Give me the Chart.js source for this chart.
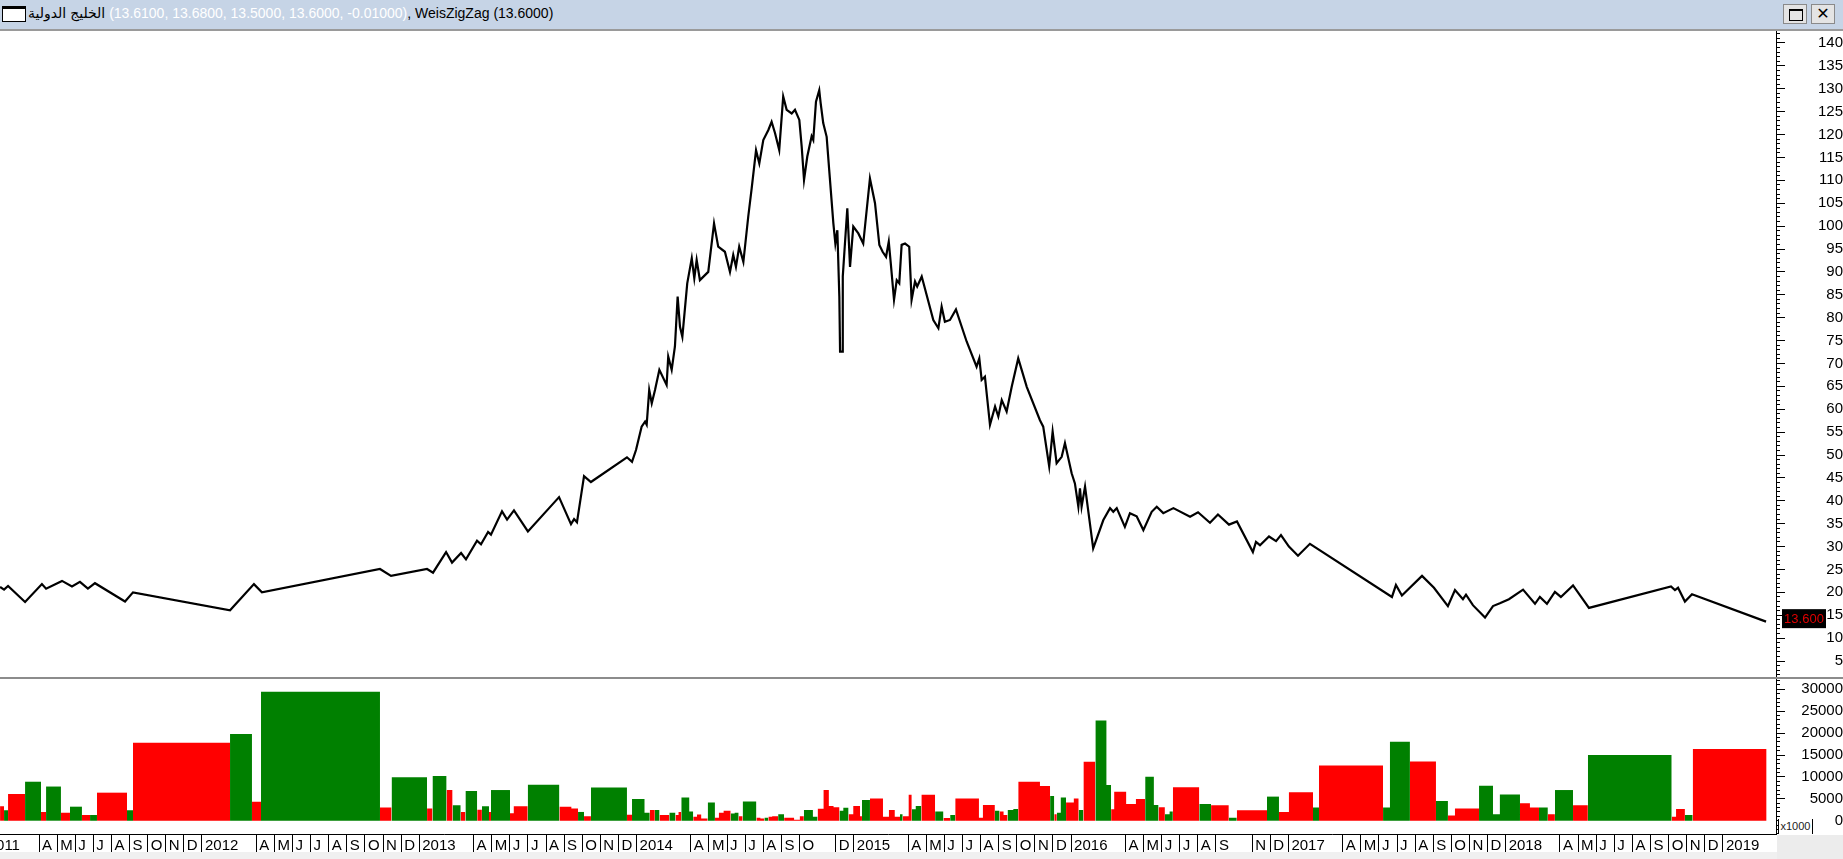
<!DOCTYPE html>
<html><head><meta charset="utf-8">
<script src="https://cdn.jsdelivr.net/npm/chart.js"></script>
<style>
html,body{margin:0;padding:0;background:#f0f0f0;width:1843px;height:859px;overflow:hidden;font-family:"Liberation Sans","DejaVu Sans",Arial,sans-serif;}
#title{position:absolute;left:0;top:0;width:1843px;height:29px;background:#c6d4e6;border-bottom:2px solid #9a9a9a;}
#icon{position:absolute;left:2px;top:6px;width:22px;height:12px;background:#fff;border:1px solid #000;border-top:3px solid #000;}
#ttext{position:absolute;left:28px;top:4px;font-size:14px;line-height:19px;white-space:nowrap;direction:ltr;color:#000;}
#ttext span{unicode-bidi:isolate;}
#ttext .w{color:#fff;}
.btn{position:absolute;top:4px;width:24px;height:20px;background:#e4e4e4;border:1px solid #8a8a8a;box-sizing:border-box;}
.sq{position:absolute;left:5px;top:4px;width:12px;height:9px;border:1px solid #000;border-top:2px solid #000;}
.xx{position:absolute;left:0;top:0;width:22px;line-height:18px;text-align:center;font-weight:bold;font-size:16px;font-family:"DejaVu Sans",sans-serif;}
#pwrap{position:absolute;left:0;top:31px;width:1843px;height:646px;background:#fff;}
#sep{position:absolute;left:0;top:677px;width:1843px;height:2px;background:#8c8c8c;}
#vwrap{position:absolute;left:0;top:679px;width:1843px;height:173px;background:#fff;}
#corner{position:absolute;left:1777px;top:835px;width:66px;height:24px;background:#ececec;}
#x1000{position:absolute;left:1778px;top:819px;width:35px;height:15px;border-left:1px solid #000;border-right:1px solid #000;box-sizing:border-box;font-size:11px;line-height:15px;text-align:center;color:#222;background:#fff;}
canvas{display:block;}
</style>
</head><body>
<div id="title">
  <div id="icon"></div>
  <div id="ttext"><span dir="rtl">الخليج الدولية</span> <span class="w">(13.6100, 13.6800, 13.5000, 13.6000, -0.01000)</span><span>, WeisZigZag (13.6000)</span></div>
  <div class="btn" style="left:1783px"><div class="sq"></div></div>
  <div class="btn" style="left:1811px"><div class="xx">✕</div></div>
</div>
<div id="pwrap"><canvas id="pc" width="1843" height="646"></canvas></div>
<div id="sep"></div>
<div id="vwrap"><canvas id="vc" width="1843" height="173"></canvas></div>
<div id="corner"></div>
<div id="x1000">x1000</div>
<script>
// ---- axis range (months since Jan 2011) ----
const X_MIN = 0.845, X_MAX = 98.93;
const P_MIN = 1.51, P_MAX = 142.62;
const V_MIN = -3036, V_MAX = 32352;

// ---- x tick labels (month index since Jan 2011) ----
const tickMonth = [0,3,4,5,6,7,8,9,10,11,12,15,16,17,18,19,20,21,22,23,24,27,28,29,30,31,32,33,34,35,36,39,40,41,42,43,44,45,47,48,51,52,53,54,55,56,57,58,59,60,63,64,65,66,67,68,70,71,72,75,76,77,78,79,80,81,82,83,84,87,88,89,90,91,92,93,94,95,96];
const tickLabel = ['2011','A','M','J','J','A','S','O','N','D','2012','A','M','J','J','A','S','O','N','D','2013','A','M','J','J','A','S','O','N','D','2014','A','M','J','J','A','S','O','D','2015','A','M','J','J','A','S','O','N','D','2016','A','M','J','J','A','S','N','D','2017','A','M','J','J','A','S','O','N','D','2018','A','M','J','J','A','S','O','N','D','2019'];

// ---- axis ticks ----
const priceTicks = [5,10,15,20,25,30,35,40,45,50,55,60,65,70,75,80,85,90,95,100,105,110,115,120,125,130,135,140];
const priceMinor = Array.from({length:141}, (_, i) => i + 2);
const volTicks = [0,5000,10000,15000,20000,25000,30000];
const volMinor = Array.from({length:36}, (_, i) => (i - 3) * 1000);

// ---- WeisZigZag pivots ----
const pivotMonth = [0.85,1.07,1.29,2.23,3.16,3.39,4.27,4.82,5.26,5.70,
6.09,7.75,8.19,13.55,14.87,15.31,21.83,22.44,24.43,24.76,
25.48,25.81,26.31,26.58,27.19,27.41,27.80,27.96,28.57,28.85,
29.23,30.00,31.72,32.38,32.55,32.71,33.10,33.48,35.47,35.75,
35.97,36.28,36.47,36.56,36.70,36.84,37.02,37.26,37.66,37.75,
37.94,38.12,38.27,38.40,38.53,38.80,39.05,39.19,39.32,39.50,
39.96,40.28,40.51,40.88,41.16,41.34,41.49,41.67,41.90,42.17,
42.36,42.60,42.78,43.00,43.28,43.46,43.65,43.88,44.10,44.29,
44.57,44.75,44.99,45.12,45.25,45.43,45.67,45.76,45.91,46.09,
46.17,46.31,46.50,46.64,46.87,46.98,47.09,47.20,47.24,47.35,
47.39,47.51,47.64,47.79,47.97,48.25,48.52,48.89,49.17,49.41,
49.59,49.78,49.93,50.04,50.22,50.37,50.51,50.64,50.83,51.06,
51.19,51.38,51.50,51.75,52.39,52.67,52.85,53.03,53.31,53.64,
54.23,54.78,54.93,55.06,55.24,55.52,55.80,55.98,56.17,56.44,
56.72,57.08,57.55,58.28,58.46,58.79,58.98,59.20,59.48,59.66,
60.03,60.21,60.40,60.49,60.58,60.77,61.22,61.78,62.15,62.33,
62.52,62.97,63.25,63.62,63.99,64.45,64.73,65.09,65.65,66.57,
67.01,67.67,68.11,68.72,69.16,70.04,70.21,70.43,70.93,71.32,
71.59,72.03,72.53,73.19,77.72,77.94,78.27,79.38,80.04,80.81,
81.20,81.64,81.81,82.19,82.86,83.30,83.68,84.18,84.96,85.62,
85.89,86.28,86.72,87.05,87.72,88.60,93.13,93.35,93.52,93.90,
94.29,98.38];
const pivotPrice = [21.2,20.6,21.4,17.9,21.8,20.8,22.5,21.3,22.3,20.8,
22.0,18.0,20.0,16.1,21.8,20.0,25.1,23.6,25.1,24.3,
28.8,26.5,28.6,27.2,31.3,30.5,33.2,32.6,37.7,35.9,
37.9,33.3,40.8,34.9,36.0,35.3,45.4,44.1,49.5,48.5,
51.1,56.2,57.3,56.6,64.2,61.3,64.2,68.6,65.3,71.5,
68.6,73.7,84.6,78.0,75.8,87.5,93.0,88.6,92.6,88.2,
90.0,100.6,95.5,94.4,90.0,93.7,91.1,95.5,92.2,102.1,
108.3,116.6,113.7,118.8,121.0,122.8,120.3,116.6,128.3,125.4,
124.6,125.4,123.2,117.4,110.1,115.2,119.6,118.8,127.2,129.7,
126.8,122.5,119.5,112.3,100.6,96.2,99.1,84.6,72.6,72.6,
89.0,96.2,103.9,91.1,99.9,98.4,96.2,110.4,105.0,95.9,
94.4,93.3,96.6,91.9,83.9,88.2,87.5,95.9,96.2,95.5,
83.9,87.9,86.8,89.0,79.5,77.7,82.4,79.1,79.5,81.8,
74.8,69.3,71.1,66.4,67.1,56.6,60.6,58.4,62.0,59.5,
64.9,71.1,64.9,57.6,56.2,47.5,55.1,48.2,49.6,52.6,
46.0,43.8,38.7,42.7,38.7,43.1,29.6,35.8,38.4,37.6,
38.4,34.3,37.3,36.6,33.6,37.6,38.7,37.3,38.4,36.5,
37.5,35.2,37.0,34.8,35.5,28.8,31.0,30.3,32.2,31.2,
32.5,30.0,28.0,30.6,19.0,21.6,19.3,23.6,21.0,17.0,
20.5,18.5,19.5,17.2,14.5,17.0,17.6,18.5,20.6,17.5,
19.0,17.5,20.1,19.0,21.5,16.6,21.3,20.5,21.0,18.0,
19.6,13.6];

// ---- wave volume bars (start month, volume, direction u=up d=down) ----
const volStart = [0.85,1.07,1.29,2.23,3.11,3.39,4.21,4.71,5.37,5.82,
6.20,7.86,8.19,13.55,14.76,15.26,21.83,22.47,24.43,24.73,
25.51,25.84,26.29,26.55,27.20,27.46,27.85,27.96,29.01,29.22,
29.99,31.74,32.40,32.77,33.10,33.48,35.47,35.75,36.44,36.73,
37.01,37.27,37.81,38.15,38.32,38.47,38.91,39.13,39.34,39.57,
39.93,40.33,40.55,40.81,41.20,41.42,41.64,41.86,42.62,42.84,
43.06,43.28,43.49,43.82,44.15,44.70,45.02,45.24,45.74,46.00,
46.33,46.62,46.88,47.21,47.42,47.71,47.97,48.34,48.45,48.89,
49.61,49.94,50.26,50.55,50.70,51.03,51.20,51.42,51.73,52.49,
52.95,53.32,53.60,54.91,55.13,55.79,56.05,56.27,56.49,56.81,
57.08,58.28,58.84,59.07,59.21,59.43,59.72,60.15,60.42,60.68,
61.34,61.95,62.21,62.38,63.04,63.58,64.09,64.57,64.83,65.18,
65.44,65.62,67.08,67.73,68.71,69.15,70.82,71.48,72.03,73.36,
73.69,77.23,77.61,78.71,80.15,80.81,81.20,82.53,83.30,83.68,
84.79,85.34,85.84,86.33,86.72,87.72,88.54,93.17,93.41,93.90,
94.33];
const volEnd = 98.41;
const volValue = [3300,2400,6100,8900,2000,7800,1800,3200,1300,1300,
6400,2400,17800,19800,4300,29450,3000,9900,2800,10200,
7000,3500,2000,6800,2500,3300,2000,7000,1700,3300,
8200,3200,2800,2000,1000,7600,1370,4960,1830,2430,
2430,1290,1830,1290,2000,5270,2100,900,1400,500,
4130,700,1830,2280,1670,1830,990,4360,700,530,
700,900,990,1450,700,240,990,2430,900,2740,
7000,3360,3050,2280,2970,1450,3360,1000,4740,5050,
900,2430,900,1450,990,5900,2590,3360,5900,2100,
600,1290,5050,700,3580,2280,2100,1290,2430,2660,
8910,7920,5640,1450,1830,5270,4130,5050,2430,13470,
22900,8140,2590,6620,3810,4950,10040,3580,3050,1450,
2100,7620,3810,3510,700,2400,5500,2000,6500,3000,
12600,3000,18000,13500,4500,1200,2800,8000,1500,6000,
4000,3000,3000,1500,7000,3500,15000,900,2670,1300,
16370];
const volDir = ['d','u','d','u','d','u','d','u','d','u',
'd','u','d','u','d','u','d','u','d','u',
'd','u','d','u','d','u','d','u','d','d',
'u','d','d','u','d','u','d','u','u','d',
'u','d','u','d','d','u','u','d','d','d',
'u','d','d','d','u','u','d','u','d','d',
'u','d','d','u','d','d','d','u','u','d',
'd','d','d','u','u','d','d','d','u','d',
'd','d','d','u','d','d','u','u','d','u',
'd','u','d','d','d','u','d','d','u','u',
'd','d','u','d','u','u','d','d','u','d',
'u','u','d','d','d','d','u','u','d','u',
'u','d','u','d','u','d','u','d','d','u',
'd','u','u','d','u','d','d','u','u','u',
'd','d','u','d','u','d','u','d','d','u',
'd'];

const GREEN = '#008000', RED = '#ff0000';
const FONT = {family:'"Liberation Sans", Arial, sans-serif', size:15};

function noPad(s) { s.paddingTop = 0; s.paddingBottom = 0; s.paddingLeft = 0; s.paddingRight = 0; }

function rightAxes(min, max, major, minor, pad) {
  return {
    yMinor: {
      type:'linear', position:'right', min, max, weight:0,
      afterBuildTicks: s => { s.ticks = minor.map(v => ({value:v})); },
      afterFit: s => { s.width = 0; noPad(s); },
      grid:{drawOnChartArea:false, drawTicks:true, tickLength:4, color:'#000', tickColor:'#000'},
      border:{display:false},
      ticks:{display:false}
    },
    y: {
      type:'linear', position:'right', min, max, weight:1,
      afterBuildTicks: s => { s.ticks = major.map(v => ({value:v})); },
      afterFit: s => { s.width = 67; noPad(s); },
      grid:{drawOnChartArea:false, drawTicks:true, tickLength:9, color:'#000', tickColor:'#000'},
      border:{display:true, color:'#000', width:1},
      ticks:{font:FONT, color:'#000', crossAlign:'far', padding:pad, callback: v => String(v)}
    }
  };
}

const lastTag = {
  id:'lastTag',
  afterDraw(chart) {
    const s = chart.scales.y;
    const v = pivotPrice[pivotPrice.length - 1];
    const y = s.getPixelForValue(v) - 3;
    const c = chart.ctx;
    c.save();
    c.fillStyle = '#000';
    c.fillRect(s.left + 6, y - 9.5, 44, 19);
    c.fillStyle = '#e00000';
    c.font = '13px "Liberation Sans", Arial, sans-serif';
    c.textAlign = 'center'; c.textBaseline = 'middle';
    c.fillText(v.toFixed(3), s.left + 28, y + 0.5);
    c.restore();
  }
};

new Chart(document.getElementById('pc'), {
  type:'line',
  data:{datasets:[{
    data: pivotMonth.map((m, i) => ({x:m, y:pivotPrice[i]})),
    borderColor:'#000', borderWidth:2.2, pointRadius:0, tension:0, fill:false
  }]},
  options:{
    animation:false, responsive:false, devicePixelRatio:1,
    layout:{padding:0},
    plugins:{legend:{display:false}, tooltip:{enabled:false}},
    scales: Object.assign({
      x:{type:'linear', min:X_MIN, max:X_MAX, display:false}
    }, rightAxes(P_MIN, P_MAX, priceTicks, priceMinor, 24))
  },
  plugins:[lastTag]
});

const volPts = volStart.map((m, i) => ({x:m, y:volValue[i]}));
volPts.push({x:volEnd, y:volValue[volValue.length - 1]});

new Chart(document.getElementById('vc'), {
  type:'line',
  data:{datasets:[{
    data: volPts,
    stepped:'before', borderWidth:0, borderColor:'rgba(0,0,0,0)', pointRadius:0,
    fill:'origin', backgroundColor:GREEN,
    segment:{backgroundColor: c => volDir[c.p0DataIndex] === 'u' ? GREEN : RED}
  }]},
  options:{
    animation:false, responsive:false, devicePixelRatio:1,
    layout:{padding:0},
    plugins:{legend:{display:false}, tooltip:{enabled:false}},
    scales: Object.assign({
      x:{type:'linear', position:'bottom', min:X_MIN, max:X_MAX,
        afterBuildTicks: s => { s.ticks = tickMonth.map(v => ({value:v})); },
        afterFit: s => { s.height = 18; noPad(s); },
        grid:{drawOnChartArea:false, drawTicks:true, tickLength:18, color:'#000', tickColor:'#000'},
        border:{display:true, color:'#000', width:1},
        ticks:{autoSkip:false, maxRotation:0, minRotation:0, align:'start', labelOffset:3, padding:-15,
          font:FONT, color:'#000', callback:(v, i) => tickLabel[i]}
      }
    }, rightAxes(V_MIN, V_MAX, volTicks, volMinor, 6))
  }
});
</script>
</body></html>
